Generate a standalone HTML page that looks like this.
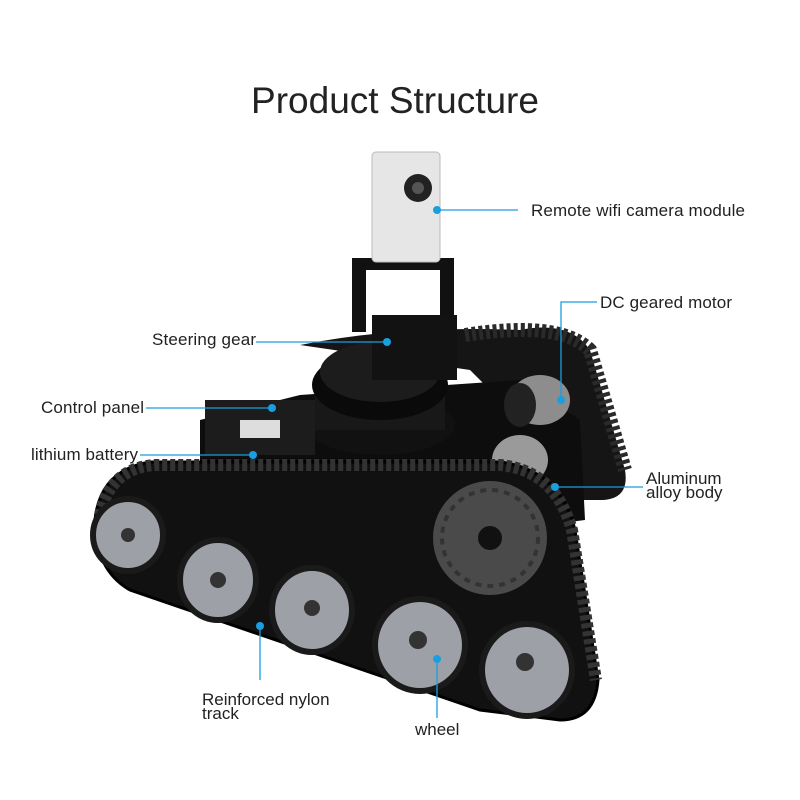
<!DOCTYPE html>
<html><head><style>
html,body{margin:0;padding:0;background:#fff;}
svg{display:block;font-family:"Liberation Sans",Arial,sans-serif;}
</style></head><body>
<svg width="800" height="800" viewBox="0 0 800 800" xmlns="http://www.w3.org/2000/svg">
<rect width="800" height="800" fill="#fff"/>
<text x="395" y="113" font-size="37" text-anchor="middle" fill="#222">Product Structure</text>

<path d="M300 345 Q400 325 520 330 Q570 320 590 350 L625 470 Q630 500 600 500 L560 500 L520 420 L470 370 Z" fill="#151515"/>
<path d="M465 335 Q560 320 590 350 L625 470" fill="none" stroke="#2a2a2a" stroke-width="14" stroke-dasharray="4 3"/>
<path d="M200 420 L300 395 L520 380 L580 420 L585 520 L430 540 L200 500 Z" fill="#0d0d0d"/>
<ellipse cx="540" cy="400" rx="30" ry="25" fill="#8d8d8d"/>
<ellipse cx="520" cy="405" rx="16" ry="22" fill="#222"/>
<ellipse cx="520" cy="460" rx="28" ry="25" fill="#9a9a9a"/>
<ellipse cx="380" cy="425" rx="75" ry="30" fill="#111"/>
<rect x="315" y="385" width="130" height="45" fill="#181818"/>
<ellipse cx="380" cy="385" rx="68" ry="35" fill="#0a0a0a"/>
<ellipse cx="380" cy="372" rx="60" ry="30" fill="#1c1c1c"/>
<rect x="205" y="400" width="110" height="55" fill="#1c1c1c"/>
<rect x="240" y="420" width="40" height="18" fill="#ddd"/>
<rect x="352" y="262" width="14" height="70" fill="#111"/>
<rect x="440" y="262" width="14" height="70" fill="#111"/>
<rect x="352" y="258" width="102" height="12" fill="#111"/>
<rect x="372" y="315" width="85" height="65" fill="#121212"/>
<rect x="372" y="152" width="68" height="110" rx="4" fill="#e6e6e6" stroke="#bbb"/>
<circle cx="418" cy="188" r="14" fill="#222"/>
<circle cx="418" cy="188" r="6" fill="#555"/>
<path d="M95 520 Q100 470 150 462 L500 462 Q560 470 575 530 L598 680 Q595 720 560 720 L480 710 L130 590 Q95 570 95 520 Z" fill="#111" stroke="#000" stroke-width="3"/>
<path d="M100 515 Q110 468 155 465 L500 465 Q555 470 572 530 L596 680" fill="none" stroke="#333" stroke-width="12" stroke-dasharray="5 3"/>
<circle cx="490" cy="538" r="57" fill="#4a4a4a"/>
<circle cx="490" cy="538" r="48" fill="none" stroke="#333" stroke-width="4" stroke-dasharray="6 6"/>
<circle cx="490" cy="538" r="12" fill="#111"/>
<g fill="#9da0a6" stroke="#1a1a1a" stroke-width="6">
<ellipse cx="128" cy="535" rx="35" ry="36"/>
<ellipse cx="218" cy="580" rx="38" ry="40"/>
<ellipse cx="312" cy="610" rx="40" ry="42"/>
<ellipse cx="420" cy="645" rx="45" ry="46"/>
<ellipse cx="527" cy="670" rx="45" ry="46"/>
</g>
<g fill="#333">
<circle cx="128" cy="535" r="7"/><circle cx="218" cy="580" r="8"/><circle cx="312" cy="608" r="8"/><circle cx="418" cy="640" r="9"/><circle cx="525" cy="662" r="9"/>
</g>

<g stroke="#1a9ee0" stroke-width="1.3" fill="none">
<line x1="437" y1="210" x2="518" y2="210"/>
<polyline points="597,302 561,302 561,400"/>
<line x1="256" y1="342" x2="387" y2="342"/>
<line x1="146" y1="408" x2="272" y2="408"/>
<line x1="140" y1="455" x2="253" y2="455"/>
<line x1="555" y1="487" x2="643" y2="487"/>
<line x1="260" y1="626" x2="260" y2="680"/>
<line x1="437" y1="659" x2="437" y2="718"/>
</g>
<g fill="#1a9ee0">
<circle cx="437" cy="210" r="4"/><circle cx="561" cy="400" r="4"/><circle cx="387" cy="342" r="4"/>
<circle cx="272" cy="408" r="4"/><circle cx="253" cy="455" r="4"/><circle cx="555" cy="487" r="4"/>
<circle cx="260" cy="626" r="4"/><circle cx="437" cy="659" r="4"/>
</g>
<g font-size="17" fill="#222">
<text x="531" y="216" textLength="214">Remote wifi camera module</text>
<text x="600" y="308" textLength="132">DC geared motor</text>
<text x="152" y="345" textLength="104">Steering gear</text>
<text x="41" y="413" textLength="103">Control panel</text>
<text x="31" y="460" textLength="107">lithium battery</text>
<text x="646" y="484">Aluminum</text>
<text x="646" y="498">alloy body</text>
<text x="202" y="705">Reinforced nylon</text>
<text x="202" y="719">track</text>
<text x="415" y="735">wheel</text>
</g>
</svg>
</body></html>
